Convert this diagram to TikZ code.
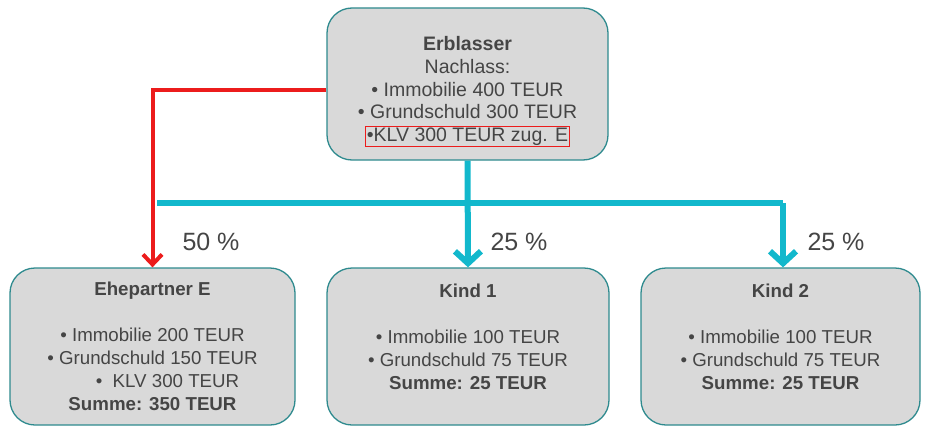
\documentclass[tikz,border=0pt]{standalone}
\usepackage{fontspec}
\setmainfont{Liberation Sans}
\usetikzlibrary{arrows.meta}

\definecolor{boxgray}{HTML}{D9D9D9}
\definecolor{boxline}{HTML}{2E8A8E}
\definecolor{flowcyan}{HTML}{12B8CC}
\definecolor{flowred}{HTML}{EC1C1C}
\definecolor{textgray}{HTML}{454545}

\begin{document}
\begin{tikzpicture}[x=1pt,y=-1pt]
\tikzstyle{person}=[draw=boxline,line width=1.3pt,fill=boxgray,rounded corners=25pt,
  align=center,text=textgray,inner sep=0pt]
\tikzstyle{share}=[line width=6pt,draw=flowcyan,-{Straight Barb[length=12pt,width=26pt]}]
\tikzstyle{spouse}=[line width=4pt,draw=flowred,-{Straight Barb[length=10pt,width=19pt]}]
\tikzstyle{quote}=[text=textgray,font=\fontsize{25}{28}\selectfont]
\useasboundingbox (0,0) rectangle (925,428);

\node[person,minimum width=281pt,minimum height=152pt,
  font=\fontsize{19.5}{22.7}\selectfont] (erbl) at (467.5,84)
  {\rule{0pt}{30pt}\textbf{Erblasser}\\ Nachlass:\\ • Immobilie 400 TEUR\\ • Grundschuld 300 TEUR\\
   {\setlength{\fboxsep}{1pt}\setlength{\fboxrule}{0.9pt}\color{flowred}\fbox{\color{textgray}•KLV 300 TEUR zug. E}}};
\node[person,minimum width=285pt,minimum height=157pt,
  font=\fontsize{18.7}{23}\selectfont] (ehe) at (152.5,346.5)
  {\textbf{Ehepartner E}\\[23pt] • Immobilie 200 TEUR\\ • Grundschuld 150 TEUR\\
   \hspace*{30pt}•\ \ KLV 300 TEUR\\ \textbf{Summe: 350 TEUR}};
\node[person,minimum width=282pt,minimum height=157pt,
  font=\fontsize{18.7}{23}\selectfont] (kind_1) at (468,346.5)
  {\textbf{Kind 1}\\[23pt] • Immobilie 100 TEUR\\ • Grundschuld 75 TEUR\\
   \textbf{Summe: 25 TEUR}\rule[-20pt]{0pt}{1pt}};
\node[person,minimum width=279pt,minimum height=157pt,
  font=\fontsize{18.7}{23}\selectfont] (kind_2) at (780.5,346.5)
  {\textbf{Kind 2}\\[23pt] • Immobilie 100 TEUR\\ • Grundschuld 75 TEUR\\
   \textbf{Summe: 25 TEUR}\rule[-20pt]{0pt}{1pt}};

\node[quote] (q_ehe) at (211,242) {50 \%};
\node[quote] (q_1) at (519,242) {25 \%};
\node[quote] (q_2) at (836,242) {25 \%};

\coordinate (split) at (157,203);
\coordinate (turn) at (783,203);

\draw[share,-] (split) -- (turn);
\draw[share] (erbl.south) -- (kind_1.north);
\draw[share] (turn) -- (turn |- kind_2.north);
\draw[spouse] ([yshift=-6pt]erbl.west) -| (ehe.north);
\end{tikzpicture}
\end{document}
